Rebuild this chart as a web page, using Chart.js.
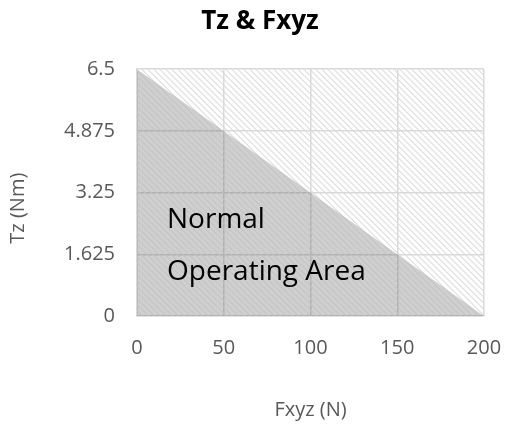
<!DOCTYPE html>
<html>
<head>
<meta charset="utf-8">
<script src="https://cdn.jsdelivr.net/npm/chart.js@4.4.1/dist/chart.umd.min.js"></script>
<style>
  html, body { margin: 0; padding: 0; background: #ffffff; }
  #wrap { width: 508px; height: 428px; position: relative; }
</style>
</head>
<body>
<div id="wrap"><canvas id="c" width="508" height="428"></canvas></div>
<script>
// ---- data ----
const boundaryFxyz = [0, 200];          // N
const boundaryTz = [6.5, 0];            // Nm
const xTickValues = [0, 50, 100, 150, 200];
const yTickValues = [0, 1.625, 3.25, 4.875, 6.5];
const yTickLabels = ['0', '1.625', '3.25', '4.875', '6.5'];
const areaLabelLines = ['Normal', 'Operating Area'];
const areaLabelAnchor = [17.3, 2.32, 0.95]; // x, y of line 1 baseline, y of line 2 baseline (data units)

function makePattern(bg, fg) {
  const n = 6;
  const c = document.createElement('canvas');
  c.width = n; c.height = n;
  const ctx = c.getContext('2d');
  const img = ctx.createImageData(n, n);
  for (let y = 0; y < n; y++) {
    for (let x = 0; x < n; x++) {
      const d = ((x - y) % n + n) % n;
      const col = (d === 0 || d === 1) ? fg : bg;
      const i = (y * n + x) * 4;
      img.data[i] = col[0]; img.data[i + 1] = col[1]; img.data[i + 2] = col[2]; img.data[i + 3] = col[3];
    }
  }
  ctx.putImageData(img, 0, 0);
  return document.getElementById('c').getContext('2d').createPattern(c, 'repeat');
}

const bgPattern = makePattern([255, 255, 255, 255], [230, 230, 230, 255]);
const fillPattern = makePattern([0, 0, 0, 48], [0, 0, 0, 34]);

const plotBg = {
  id: 'plotBg',
  beforeDraw(chart) {
    const { ctx, chartArea: a } = chart;
    ctx.save();
    ctx.fillStyle = bgPattern;
    ctx.fillRect(a.left, a.top, a.right - a.left, a.bottom - a.top);
    ctx.restore();
  }
};

const areaText = {
  id: 'areaText',
  afterDatasetsDraw(chart) {
    const { ctx, scales } = chart;
    const x = scales.x.getPixelForValue(areaLabelAnchor[0]);
    ctx.save();
    ctx.font = '28px "Open Sans"';
    ctx.fillStyle = '#000000';
    ctx.textAlign = 'left';
    ctx.textBaseline = 'alphabetic';
    ctx.fillText(areaLabelLines[0], x, scales.y.getPixelForValue(areaLabelAnchor[1]));
    ctx.fillText(areaLabelLines[1], x, scales.y.getPixelForValue(areaLabelAnchor[2]));
    ctx.restore();
  }
};

new Chart(document.getElementById('c'), {
  type: 'scatter',
  data: {
    datasets: [{
      data: boundaryFxyz.map((v, i) => ({ x: v, y: boundaryTz[i] })),
      showLine: true,
      borderWidth: 0,
      borderColor: 'rgba(0,0,0,0)',
      pointRadius: 0,
      fill: 'origin',
      backgroundColor: fillPattern
    }]
  },
  options: {
    responsive: false,
    animation: false,
    layout: { padding: { left: 36, right: 24, top: 0, bottom: 0 } },
    plugins: {
      legend: { display: false },
      tooltip: { enabled: false },
      title: {
        display: true,
        text: 'Tz & Fxyz',
        color: '#000000',
        font: { family: 'Open Sans', size: 26, weight: 'bold' },
        padding: { top: 6, bottom: 32 }
      }
    },
    scales: {
      x: {
        type: 'linear',
        min: 0, max: 200,
        afterBuildTicks(s) { s.ticks = xTickValues.map(v => ({ value: v })); },
        afterFit(s) { s.height = 112; s.paddingLeft = 0; s.paddingRight = 0; },
        grid: { color: '#d9d9d9', lineWidth: 1.5, drawTicks: false },
        border: { display: true, color: '#d9d9d9', width: 1.5 },
        ticks: {
          color: '#595959',
          font: { family: 'Open Sans', size: 20 },
          padding: 20,
          maxRotation: 0
        },
        title: {
          display: true,
          text: 'Fxyz (N)',
          color: '#595959',
          font: { family: 'Open Sans', size: 20 },
          padding: { top: 0, bottom: 6 }
        }
      },
      y: {
        type: 'linear',
        min: 0, max: 6.5,
        afterBuildTicks(s) { s.ticks = yTickValues.map(v => ({ value: v })); },
        afterFit(s) { s.width = 101; s.paddingTop = 0; s.paddingBottom = 0; },
        grid: { color: '#d9d9d9', lineWidth: 1.5, drawTicks: false },
        border: { display: true, color: '#d9d9d9', width: 1.5 },
        ticks: {
          color: '#595959',
          font: { family: 'Open Sans', size: 20 },
          padding: 22,
          callback(v) { const i = yTickValues.indexOf(v); return i >= 0 ? yTickLabels[i] : ''; }
        },
        title: {
          display: true,
          text: 'Tz (Nm)      ',
          color: '#595959',
          font: { family: 'Open Sans', size: 20 },
          padding: { top: -30, bottom: 0 }
        }
      }
    }
  },
  plugins: [plotBg, areaText]
});
</script>
</body>
</html>
